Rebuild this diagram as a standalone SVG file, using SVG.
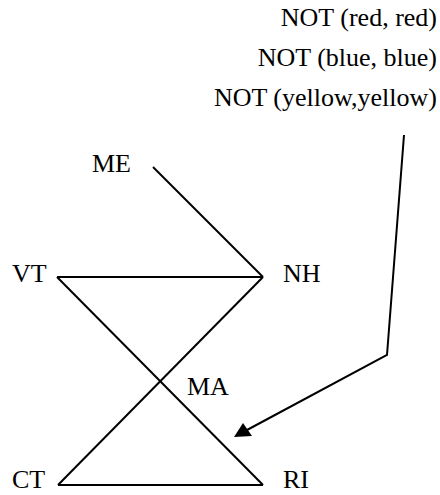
<svg xmlns="http://www.w3.org/2000/svg" width="440" height="495" viewBox="0 0 440 495">
  <style>
    text { font-family: "Liberation Serif", "Times New Roman", serif; font-size: 26px; fill: #000; }
    .rule { text-anchor: end; }
    .edge { stroke: #000; stroke-width: 2; fill: none; stroke-linecap: butt; stroke-linejoin: miter; }
  </style>

  <!-- constraint list -->
  <g id="constraints">
    <text class="rule" x="437" y="26">NOT (red, red)</text>
    <text class="rule" x="437" y="66">NOT (blue, blue)</text>
    <text class="rule" x="437" y="106">NOT (yellow,yellow)</text>
  </g>

  <!-- connectors -->
  <g id="edges">
    <line class="edge" x1="153" y1="167" x2="263" y2="277"/>
    <line class="edge" x1="57" y1="277" x2="263" y2="277"/>
    <line class="edge" x1="57" y1="277" x2="263" y2="485"/>
    <line class="edge" x1="263" y1="277" x2="58" y2="485"/>
    <line class="edge" x1="58" y1="485" x2="263" y2="485"/>
    <polyline class="edge" points="404,135 387,355 247,430"/>
    <polygon points="234,437 243,423 252,436" fill="#000"/>
  </g>

  <!-- states -->
  <g id="ME"><text x="92" y="172">ME</text></g>
  <g id="VT"><text x="12" y="282">VT</text></g>
  <g id="NH"><text x="283" y="282">NH</text></g>
  <g id="MA"><text x="187" y="395">MA</text></g>
  <g id="CT"><text x="12" y="488">CT</text></g>
  <g id="RI"><text x="283" y="488">RI</text></g>
</svg>
